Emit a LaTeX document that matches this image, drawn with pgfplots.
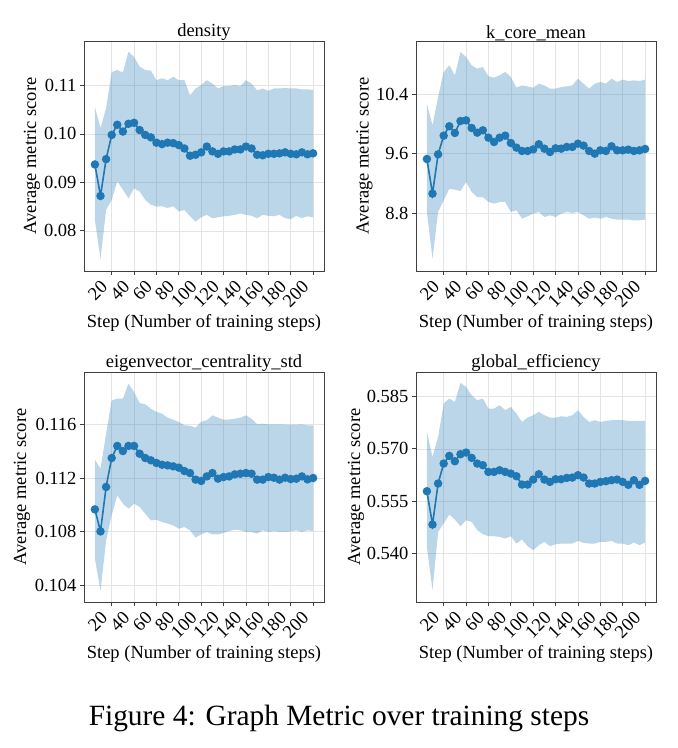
\documentclass[border=0pt]{standalone}
\usepackage{fontspec}
\setmainfont{Liberation Serif}
\usepackage{pgfplots}
\pgfplotsset{compat=1.18}
\usepackage{pgfplotstable}
\usepgfplotslibrary{fillbetween}
\definecolor{tabblue}{RGB}{31,119,180}
\definecolor{framegray}{RGB}{64,64,64}
\definecolor{gridgray}{RGB}{228,228,228}

\pgfplotstableread{
x mean hi lo
5 0.0937 0.1056 0.0822
10 0.0872 0.1012 0.0742
15 0.0948 0.1053 0.0843
20 0.0998 0.1128 0.0864
25 0.1019 0.1132 0.0902
30 0.1005 0.1127 0.0885
35 0.1021 0.1170 0.0867
40 0.1023 0.1159 0.0888
45 0.1008 0.1139 0.0881
50 0.0998 0.1132 0.0864
55 0.0993 0.1131 0.0854
60 0.0982 0.1111 0.0850
65 0.0979 0.1115 0.0851
70 0.0982 0.1111 0.0847
75 0.0981 0.1118 0.0851
80 0.0977 0.1111 0.0840
85 0.0970 0.1111 0.0843
90 0.0955 0.1080 0.0830
95 0.0957 0.1094 0.0819
100 0.0962 0.1101 0.0828
105 0.0974 0.1111 0.0833
110 0.0964 0.1104 0.0826
115 0.0959 0.1094 0.0828
120 0.0964 0.1099 0.0830
125 0.0964 0.1099 0.0831
130 0.0968 0.1101 0.0833
135 0.0968 0.1099 0.0836
140 0.0974 0.1111 0.0833
145 0.0970 0.1104 0.0831
150 0.0957 0.1090 0.0826
155 0.0956 0.1094 0.0833
160 0.0959 0.1089 0.0831
165 0.0959 0.1094 0.0830
170 0.0960 0.1094 0.0833
175 0.0962 0.1095 0.0826
180 0.0959 0.1094 0.0824
185 0.0958 0.1094 0.0831
190 0.0962 0.1092 0.0826
195 0.0958 0.1092 0.0830
200 0.0960 0.1091 0.0828
}\dens

\pgfplotstableread{
x mean hi lo
5 9.528 10.272 8.816
10 9.062 9.981 8.188
15 9.591 10.362 8.816
20 9.842 10.698 8.972
25 9.968 10.788 9.129
30 9.878 10.653 9.116
35 10.039 10.967 9.098
40 10.048 10.900 9.219
45 9.945 10.788 9.085
50 9.882 10.743 9.017
55 9.914 10.765 9.017
60 9.815 10.640 8.950
65 9.757 10.622 8.928
70 9.815 10.653 8.950
75 9.842 10.698 8.950
80 9.743 10.631 8.816
85 9.681 10.487 8.839
90 9.636 10.519 8.726
95 9.636 10.505 8.757
100 9.658 10.487 8.793
105 9.726 10.541 8.816
110 9.667 10.519 8.748
115 9.622 10.474 8.771
120 9.672 10.474 8.748
125 9.667 10.496 8.793
130 9.690 10.505 8.816
135 9.690 10.519 8.803
140 9.734 10.609 8.816
145 9.708 10.541 8.771
150 9.636 10.474 8.726
155 9.600 10.541 8.739
160 9.645 10.564 8.726
165 9.636 10.541 8.748
170 9.699 10.609 8.726
175 9.645 10.564 8.712
180 9.645 10.595 8.712
185 9.654 10.577 8.712
190 9.636 10.586 8.703
195 9.645 10.577 8.703
200 9.663 10.595 8.712
}\kcore

\pgfplotstableread{
x mean hi lo
5 0.10966 0.11337 0.10599
10 0.10802 0.11270 0.10358
15 0.11133 0.11530 0.10735
20 0.11349 0.11779 0.10922
25 0.11439 0.11791 0.11071
30 0.11401 0.11791 0.11009
35 0.11439 0.11903 0.10971
40 0.11439 0.11841 0.11009
45 0.11381 0.11759 0.10984
50 0.11349 0.11749 0.10934
55 0.11332 0.11717 0.10884
60 0.11312 0.11692 0.10889
65 0.11299 0.11680 0.10872
70 0.11294 0.11650 0.10860
75 0.11287 0.11635 0.10847
80 0.11277 0.11617 0.10822
85 0.11252 0.11593 0.10835
90 0.11237 0.11590 0.10810
95 0.11188 0.11575 0.10755
100 0.11178 0.11620 0.10780
105 0.11212 0.11630 0.10798
110 0.11237 0.11667 0.10780
115 0.11195 0.11650 0.10780
120 0.11207 0.11635 0.10790
125 0.11212 0.11635 0.10805
130 0.11227 0.11642 0.10815
135 0.11232 0.11650 0.10810
140 0.11237 0.11667 0.10798
145 0.11232 0.11642 0.10798
150 0.11188 0.11600 0.10785
155 0.11188 0.11605 0.10810
160 0.11207 0.11600 0.10798
165 0.11202 0.11600 0.10805
170 0.11188 0.11600 0.10798
175 0.11202 0.11598 0.10798
180 0.11192 0.11598 0.10802
185 0.11195 0.11598 0.10810
190 0.11212 0.11600 0.10798
195 0.11190 0.11593 0.10810
200 0.11200 0.11593 0.10805
}\eigen

\pgfplotstableread{
x mean hi lo
5 0.55789 0.57486 0.54197
10 0.54836 0.56771 0.52958
15 0.56009 0.57343 0.54626
20 0.56581 0.58297 0.54864
25 0.56800 0.58440 0.55122
30 0.56647 0.58344 0.54979
35 0.56847 0.58888 0.54788
40 0.56895 0.58773 0.54960
45 0.56743 0.58535 0.54912
50 0.56581 0.58392 0.54674
55 0.56533 0.58440 0.54559
60 0.56342 0.58154 0.54502
65 0.56342 0.58154 0.54502
70 0.56390 0.58249 0.54483
75 0.56342 0.58106 0.54435
80 0.56294 0.58201 0.54502
85 0.56218 0.58010 0.54292
90 0.55980 0.57772 0.54407
95 0.55980 0.57896 0.54216
100 0.56123 0.57963 0.54102
105 0.56275 0.58058 0.54245
110 0.56123 0.57963 0.54340
115 0.56056 0.57896 0.54216
120 0.56132 0.57896 0.54273
125 0.56132 0.57934 0.54292
130 0.56170 0.57915 0.54292
135 0.56180 0.57963 0.54292
140 0.56247 0.58106 0.54369
145 0.56180 0.57915 0.54312
150 0.56009 0.57772 0.54292
155 0.56009 0.57820 0.54292
160 0.56056 0.57772 0.54340
165 0.56075 0.57801 0.54340
170 0.56104 0.57820 0.54369
175 0.56123 0.57820 0.54292
180 0.56056 0.57820 0.54292
185 0.55972 0.57801 0.54245
190 0.56104 0.57801 0.54321
195 0.55972 0.57801 0.54245
200 0.56085 0.57801 0.54321
}\glob

\pgfplotsset{
  panel/.style={
    scale only axis, width=240pt, height=230pt, anchor=south west,
    xmin=-4.75, xmax=209.75,
    xtick={20,40,...,200},
    tick align=outside, major tick length=4pt,
    xtick pos=left, ytick pos=left,
    tick style={framegray, line width=0.8pt},
    axis line style={framegray, line width=0.9pt},
    grid=major, major grid style={gridgray, line width=0.6pt},
    xticklabel style={xshift=-12pt, yshift=-3pt, rotate=45, anchor=north east, inner sep=1pt},
    tick label style={font=\fontsize{18.5}{20}\selectfont},
    label style={font=\fontsize{18.5}{20}\selectfont},
    title style={font=\fontsize{18.5}{20}\selectfont, yshift=-9pt},
    xlabel={Step (Number of training steps)},
    ylabel={Average metric score},
    xlabel style={at={(axis description cs:0.5,-0.226)}, anchor=center},
    /pgf/number format/assume math mode=true,
    scaled y ticks=false,
  },
  band/.style={fill=tabblue, fill opacity=0.3, draw=none},
  meanline/.style={tabblue, line width=1.6pt, mark=*, mark size=3.4pt,
    mark options={solid, fill=tabblue, draw=tabblue}},
}

\begin{document}
\begin{tikzpicture}

% density
\begin{axis}[panel, at={(84pt,477pt)}, title={density},
  ylabel style={at={(axis description cs:-0.217,0.5)}, anchor=center},
  ymin=0.0717, ymax=0.1192, ytick={0.08,0.09,0.10,0.11},
  yticklabel style={/pgf/number format/.cd, fixed, fixed zerofill, precision=2}]
\addplot[name path=hi, draw=none, forget plot] table[x=x,y=hi]{\dens};
\addplot[name path=lo, draw=none, forget plot] table[x=x,y=lo]{\dens};
\addplot[band] fill between[of=hi and lo];
\addplot[meanline] table[x=x,y=mean]{\dens};
\end{axis}

% k_core_mean
\begin{axis}[panel, at={(416pt,477pt)}, title={k\_core\_mean},
  ylabel style={at={(axis description cs:-0.215,0.5)}, anchor=center},
  ymin=8.022, ymax=11.115, ytick={8.8,9.6,10.4},
  yticklabel style={/pgf/number format/.cd, fixed, fixed zerofill, precision=1}]
\addplot[name path=hi, draw=none, forget plot] table[x=x,y=hi]{\kcore};
\addplot[name path=lo, draw=none, forget plot] table[x=x,y=lo]{\kcore};
\addplot[band] fill between[of=hi and lo];
\addplot[meanline] table[x=x,y=mean]{\kcore};
\end{axis}

% eigenvector_centrality_std
\begin{axis}[panel, at={(84pt,146pt)}, title={eigenvector\_centrality\_std},
  ylabel style={at={(axis description cs:-0.258,0.5)}, anchor=center},
  ymin=0.10276, ymax=0.1199, ytick={0.104,0.108,0.112,0.116},
  yticklabel style={/pgf/number format/.cd, fixed, fixed zerofill, precision=3}]
\addplot[name path=hi, draw=none, forget plot] table[x=x,y=hi]{\eigen};
\addplot[name path=lo, draw=none, forget plot] table[x=x,y=lo]{\eigen};
\addplot[band] fill between[of=hi and lo];
\addplot[meanline] table[x=x,y=mean]{\eigen};
\end{axis}

% global_efficiency
\begin{axis}[panel, at={(416pt,146pt)}, title={global\_efficiency},
  ylabel style={at={(axis description cs:-0.25,0.5)}, anchor=center},
  ymin=0.5262, ymax=0.5920, ytick={0.540,0.555,0.570,0.585},
  yticklabel style={/pgf/number format/.cd, fixed, fixed zerofill, precision=3}]
\addplot[name path=hi, draw=none, forget plot] table[x=x,y=hi]{\glob};
\addplot[name path=lo, draw=none, forget plot] table[x=x,y=lo]{\glob};
\addplot[band] fill between[of=hi and lo];
\addplot[meanline] table[x=x,y=mean]{\glob};
\end{axis}

\node[font=\fontsize{29.4}{33}\selectfont] at (339pt,30pt) {Figure 4: Graph Metric over training steps};
\path (0,0) rectangle (678pt,748pt);
\end{tikzpicture}
\end{document}
